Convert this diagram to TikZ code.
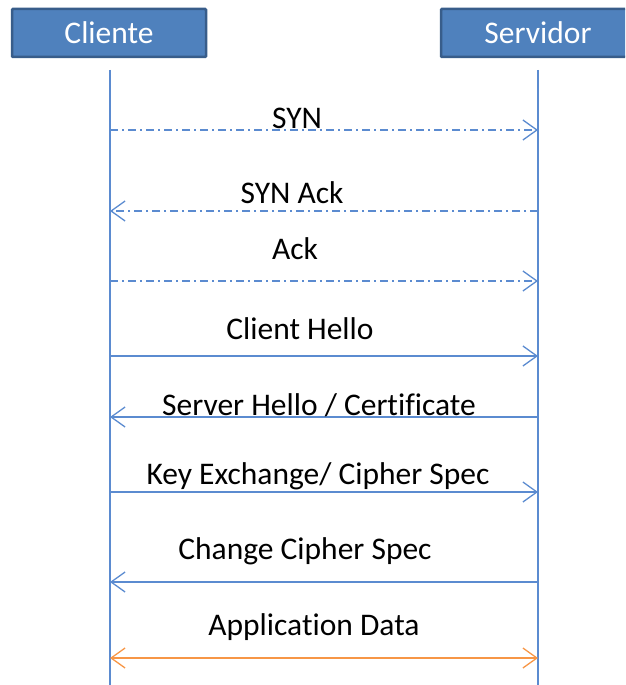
\documentclass[tikz,border=0pt]{standalone}
\usepackage{fontspec}
\setmainfont{Carlito}[Ligatures=CommonOff]
\usetikzlibrary{arrows.meta}
\definecolor{boxfill}{HTML}{4F81BD}
\definecolor{boxdraw}{HTML}{385D8A}
\definecolor{lineblue}{HTML}{5B8BD0}
\definecolor{appor}{HTML}{F79646}
\begin{document}
\begin{tikzpicture}[x=1pt,y=1pt,
  actor/.style={draw=boxdraw,line width=2.5pt,fill=boxfill,text=white,minimum width=194pt,minimum height=48pt,font=\fontsize{31.5}{36}\selectfont,inner sep=0pt,rounded corners=1pt},
  lifeline/.style={draw=lineblue,line width=1.5pt},
  tip/.style={},
  msg/.style={draw=lineblue,line width=1.3pt,-{Straight Barb[length=14pt,width=20pt,line width=1.3pt]}},
  dd/.style={dash pattern=on 8pt off 4pt on 2pt off 4pt},
  lbl/.style={font=\fontsize{31.5}{36}\selectfont,inner sep=0pt,anchor=base}]
\useasboundingbox (0,0) rectangle (625,-685);
\clip (0,0) rectangle (625,-685);
\node[actor] (cli) at (109,-33) {Cliente};
\node[actor] (srv) at (538,-33) {Servidor};
\coordinate (ct) at (110,-70);
\coordinate (cb) at (110,-690);
\coordinate (st) at (538,-70);
\coordinate (sb) at (538,-690);
\draw[lifeline] (ct) -- (cb);
\draw[lifeline] (st) -- (sb);
% messages
\foreach \n/\y in {1/130,2/211,3/281,4/356,5/417,6/492,7/582,8/658}{
  \coordinate (c\n) at (110,-\y);
  \coordinate (s\n) at (538,-\y);
}
\draw[msg,dd] (c1) -- (s1);
\draw[msg,dd] (s2) -- (c2);
\draw[msg,dd] (c3) -- (s3);
\draw[msg] (c4) -- (s4);
\draw[msg] (s5) -- (c5);
\draw[msg] (c6) -- (s6);
\draw[msg] (s7) -- (c7);
\draw[msg,draw=appor,{Straight Barb[length=14pt,width=20pt,line width=1.3pt]}-{Straight Barb[length=14pt,width=20pt,line width=1.3pt]}] (c8) -- (s8);
\node[lbl] (l1) at (297,-128) {SYN};
\node[lbl] (l2) at (292,-203) {SYN Ack};
\node[lbl] (l3) at (295,-259) {Ack};
\node[lbl] (l4) at (300,-339) {Client Hello};
\node[lbl] (l5) at (319,-415) {Server Hello / Certificate};
\node[lbl] (l6) at (318,-484) {Key Exchange/ Cipher Spec};
\node[lbl] (l7) at (305,-559) {Change Cipher Spec};
\node[lbl] (l8) at (314,-635) {Application Data};
\end{tikzpicture}
\end{document}
